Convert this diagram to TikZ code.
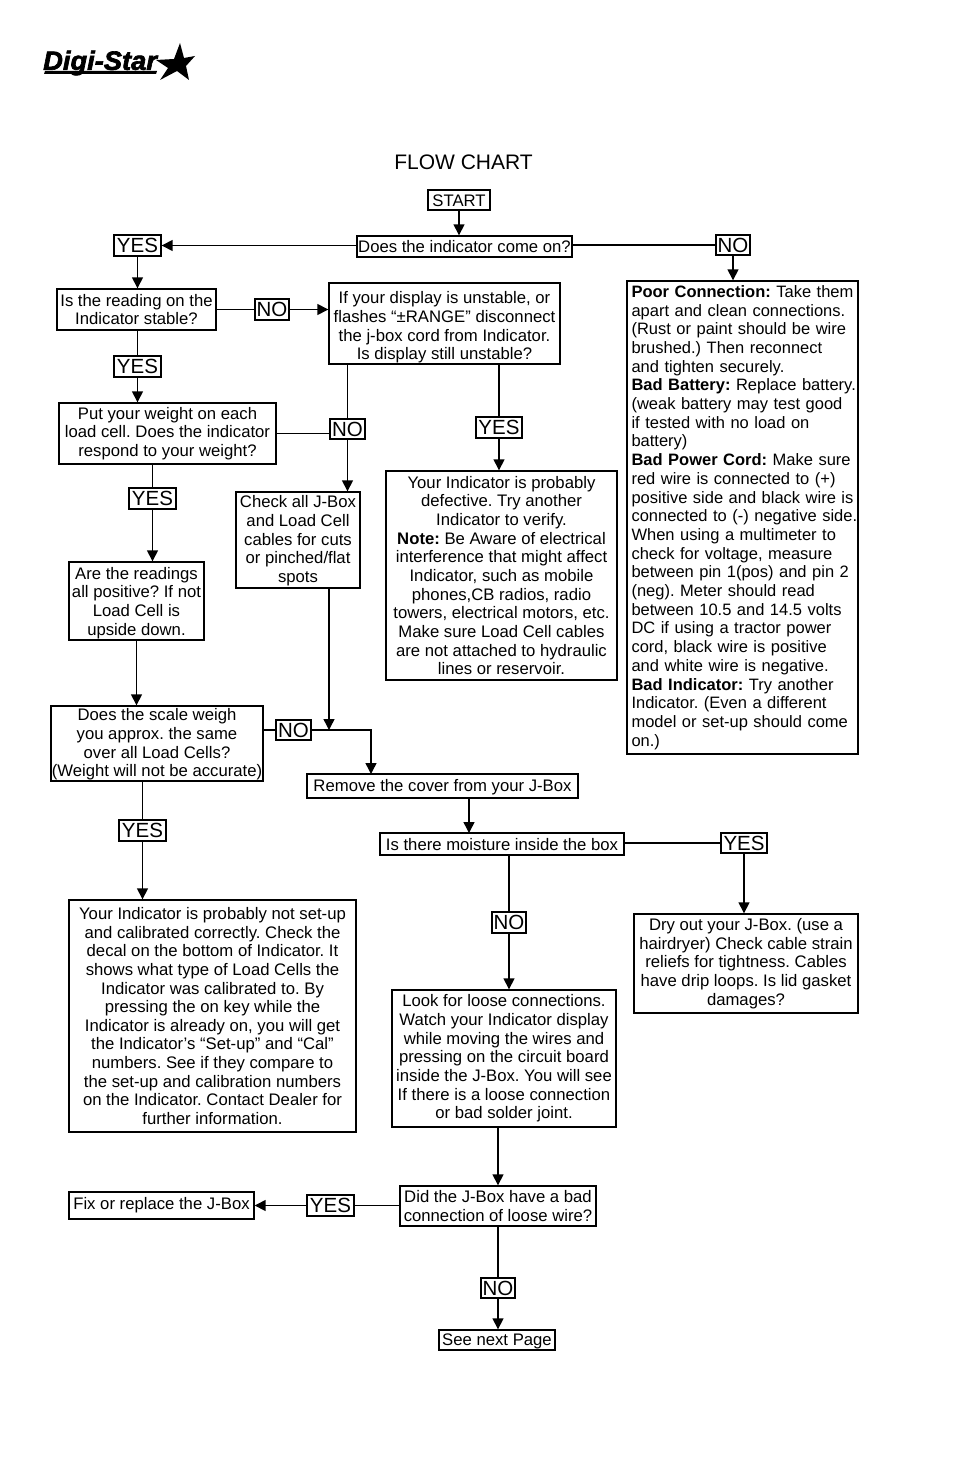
\documentclass[tikz,border=0pt]{standalone}
\usepackage{fontspec}
\setmainfont{Liberation Sans}
\newfontfamily\logofont{Liberation Sans}[BoldItalicFeatures={FakeBold=2.5,FakeStretch=1.03}]
\usetikzlibrary{arrows.meta}

\tikzset{
  flowbox/.style={draw, fill=white, line width=1.4pt, inner sep=0pt, align=center,
    font=\fontsize{16.7}{18.65}\selectfont\frenchspacing},
  notebox/.style={flowbox, align=left, font=\fontsize{16.5}{18.7}\selectfont\frenchspacing},
  tagbox/.style={draw, fill=white, line width=1.4pt, inner sep=0pt,
    font=\fontsize{20.5}{22}\selectfont},
  flowline/.style={line width=1.5pt},
  flowarrow/.style={line width=1.5pt, -{Triangle[length=11pt,width=11pt]}}
}
\newcommand\Lead[1]{\rule{0pt}{#1pt}}

\begin{document}
\begin{tikzpicture}[x=1pt, y=-1pt]

  \useasboundingbox (0,0) rectangle (954,1474);

  %% logo
  \node[inner sep=0pt, anchor=west, font=\logofont\fontsize{26.5}{26}\bfseries\itshape\selectfont] (logo) at (43,63) {Digi-Star};
  \fill (45,71) -- (157,71) -- (156,74) -- (44,74) -- cycle;
  \fill (180,43) -- (184,58) -- (195,56) -- (186,66) -- (189,80) -- (177,71) -- (160,80) -- (168,68) -- (156,60) -- (174,59) -- cycle;

  \node[font=\fontsize{21}{24}\selectfont, inner sep=0pt] (title) at (463.5,162) {FLOW CHART};

  %% first column
  \node[flowbox, minimum width=62, minimum height=20] (start) at (459,200) {\Lead{14}START};
  \node[flowbox, minimum width=215, minimum height=21] (come) at (464.5,246.5) {Does the indicator come on?};
  \node[tagbox, minimum width=47, minimum height=21] (yesa) at (137.5,245.5) {YES};
  \node[tagbox, minimum width=34, minimum height=20] (noa) at (733,245) {NO};

  \node[flowbox, minimum width=159, minimum height=41] (stable) at (136.5,309.5) {Is the reading on the\\Indicator stable?};
  \node[tagbox, minimum width=34, minimum height=21] (nob) at (272,309.5) {NO};
  \node[flowbox, minimum width=231, minimum height=81] (unstable) at (444.5,323.5) {\Lead{20}If your display is unstable, or\\flashes “±RANGE” disconnect\\the j-box cord from Indicator.\\Is display still unstable?};
  \node[tagbox, minimum width=47, minimum height=21] (yesb) at (137.5,366.5) {YES};

  \node[flowbox, minimum width=217, minimum height=61] (weight) at (167.5,433.5) {Put your weight on each\\load cell. Does the indicator\\respond to your weight?};
  \node[tagbox, minimum width=35, minimum height=20] (noc) at (347.5,429) {NO};
  \node[tagbox, minimum width=46, minimum height=21] (yesc) at (499,427.5) {YES};
  \node[tagbox, minimum width=47, minimum height=21] (yesd) at (152.5,498.5) {YES};

  \node[flowbox, minimum width=231, minimum height=209] (defective) at (501.5,575.5) {Your Indicator is probably\\defective. Try another\\Indicator to verify.\\\textbf{Note:} Be Aware of electrical\\interference that might affect\\Indicator, such as mobile\\phones,CB radios, radio\\towers, electrical motors, etc.\\Make sure Load Cell cables\\are not attached to hydraulic\\lines or reservoir.};
  \node[flowbox, minimum width=124, minimum height=96] (cables) at (298,540) {\Lead{14}Check all J-Box\\and Load Cell\\cables for cuts\\or pinched/flat\\spots};
  \node[flowbox, minimum width=135, minimum height=78] (readings) at (136.5,601) {\Lead{16}Are the readings\\all positive? If not\\Load Cell is\\upside down.};

  \node[notebox, minimum width=231, minimum height=473, text width=229] (poor) at (742.5,517.5) {\hyphenpenalty=10000\leftskip=3.5pt\rightskip=-14pt plus 2em\textbf{Poor Connection:} Take them\\apart and clean connections.\\(Rust or paint should be wire\\brushed.) Then reconnect\\and tighten securely.\\\textbf{Bad Battery:} Replace battery.\\(weak battery may test good\\if tested with no load on\\battery)\\\textbf{Bad Power Cord:} Make sure\\red wire is connected to (+)\\positive side and black wire is\\connected to (-) negative side.\\When using a multimeter to\\check for voltage, measure\\between pin 1(pos) and pin 2\\(neg). Meter should read\\between 10.5 and 14.5 volts\\DC if using a tractor power\\cord, black wire is positive\\and white wire is negative.\\\textbf{Bad Indicator:} Try another\\Indicator. (Even a different\\model or set-up should come\\on.)\par};

  %% lower half
  \node[flowbox, minimum width=212, minimum height=75] (scale) at (157,743.5) {\Lead{14}Does the scale weigh\\you approx. the same\\over all Load Cells?\\(Weight will not be accurate)};
  \node[tagbox, minimum width=35, minimum height=20] (nod) at (293.5,730) {NO};
  \coordinate (join) at (329,730);
  \node[flowbox, minimum width=271, minimum height=24] (cover) at (442.5,786) {\Lead{14}Remove the cover from your J-Box};
  \coordinate (coverin) at (371,774);
  \coordinate (coverout) at (469,798);
  \coordinate (moistin) at (469,833);
  \node[flowbox, minimum width=244, minimum height=22] (moisture) at (502,844) {\Lead{14}Is there moisture inside the box};
  \node[tagbox, minimum width=46, minimum height=20] (yese) at (744,843) {YES};
  \node[tagbox, minimum width=47, minimum height=21] (yesf) at (142.5,830.5) {YES};
  \node[tagbox, minimum width=34, minimum height=21] (noe) at (509,922.5) {NO};

  \node[flowbox, minimum width=287, minimum height=232] (setup) at (212.5,1016) {Your Indicator is probably not set-up\\and calibrated correctly. Check the\\decal on the bottom of Indicator. It\\shows what type of Load Cells the\\Indicator was calibrated to. By\\pressing the on key while the\\Indicator is already on, you will get\\the Indicator’s “Set-up” and “Cal”\\numbers. See if they compare to\\the set-up and calibration numbers\\on the Indicator. Contact Dealer for\\further information.};
  \node[flowbox, minimum width=224, minimum height=99] (dry) at (746,963.5) {Dry out your J-Box. (use a\\hairdryer) Check cable strain\\reliefs for tightness. Cables\\have drip loops. Is lid gasket\\damages?};
  \node[flowbox, minimum width=224, minimum height=137] (loose) at (504,1058.5) {Look for loose connections.\\Watch your Indicator display\\while moving the wires and\\pressing on the circuit board\\inside the J-Box. You will see\\If there is a loose connection\\or bad solder joint.};

  \node[flowbox, minimum width=196, minimum height=40] (solder) at (498,1206) {Did the J-Box have a bad\\connection of loose wire?};
  \node[tagbox, minimum width=47, minimum height=21] (yesg) at (330.5,1205.5) {YES};
  \node[flowbox, minimum width=185, minimum height=27] (fix) at (161.5,1205.5) {Fix or replace the J-Box};
  \node[tagbox, minimum width=34, minimum height=20] (nof) at (498,1288) {NO};
  \node[flowbox, minimum width=116, minimum height=20] (next) at (497,1340) {\Lead{14}See next Page};

  %% connectors
  \draw[flowarrow] (start.south) -- (start.south |- come.north);
  \draw[flowarrow] (come.west |- yesa.east) -- (yesa.east);
  \draw[flowline] (come.east |- noa.west) -- (noa.west);
  \draw[flowarrow] (noa.south) -- (noa.south |- poor.north);
  \draw[flowarrow] (yesa.south) -- (yesa.south |- stable.north);
  \draw[flowline] (stable.east |- nob.west) -- (nob.west);
  \draw[flowarrow] (nob.east) -- (nob.east -| unstable.west);
  \draw[flowline] (stable.south -| yesb.north) -- (yesb.north);
  \draw[flowarrow] (yesb.south) -- (yesb.south |- weight.north);
  \draw[flowline] (weight.east) -- (weight.east -| noc.west);
  \draw[flowline] (noc.north |- unstable.south) -- (noc.north);
  \draw[flowarrow] (noc.south) -- (noc.south |- cables.north);
  \draw[flowline] (yesc.north |- unstable.south) -- (yesc.north);
  \draw[flowarrow] (yesc.south) -- (yesc.south |- defective.north);
  \draw[flowline] (weight.south -| yesd.north) -- (yesd.north);
  \draw[flowarrow] (yesd.south) -- (yesd.south |- readings.north);
  \draw[flowarrow] (readings.south) -- (readings.south |- scale.north);
  \draw[flowarrow] (join |- cables.south) -- (join);
  \draw[flowline] (scale.east |- nod.west) -- (nod.west);
  \draw[flowarrow] (nod.east) -| (coverin);
  \draw[flowline] (scale.south -| yesf.north) -- (yesf.north);
  \draw[flowarrow] (yesf.south) -- (yesf.south |- setup.north);
  \draw[flowarrow] (coverout) -- (moistin);
  \draw[flowline] (moisture.east |- yese.west) -- (yese.west);
  \draw[flowarrow] (yese.south) -- (yese.south |- dry.north);
  \draw[flowline] (moisture.south -| noe.north) -- (noe.north);
  \draw[flowarrow] (noe.south) -- (noe.south |- loose.north);
  \draw[flowarrow] (solder.north |- loose.south) -- (solder.north);
  \draw[flowline] (solder.west |- yesg.east) -- (yesg.east);
  \draw[flowarrow] (yesg.west) -- (yesg.west -| fix.east);
  \draw[flowline] (solder.south) -- (nof.north);
  \draw[flowarrow] (nof.south) -- (nof.south |- next.north);

\end{tikzpicture}
\end{document}
